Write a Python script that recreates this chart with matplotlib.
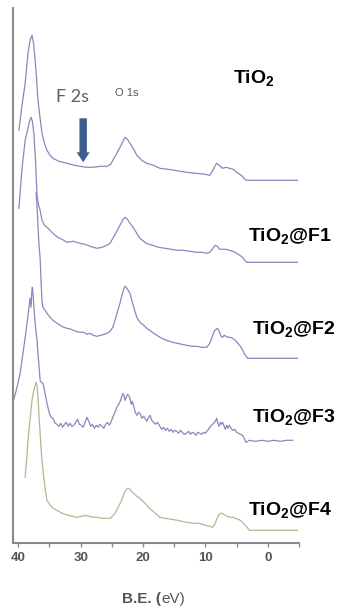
import numpy as np
import matplotlib.pyplot as plt

plt.rcParams['font.family'] = ['Liberation Sans', 'DejaVu Sans']
plt.rcParams['mathtext.fontset'] = 'custom'
plt.rcParams['mathtext.rm'] = 'Liberation Sans'
plt.rcParams['mathtext.bf'] = 'Liberation Sans:bold'

# spectra: (binding energy eV, intensity a.u. incl. vertical offset)
tio2 = [(39.9, 413), (39.4, 438), (38.9, 460), (38.45, 490), (38.1, 503), (37.8, 508),
        (37.55, 500), (37.3, 483), (37.05, 463), (36.85, 443), (36.5, 425), (36.2, 410),
        (35.8, 400), (35.4, 393), (34.9, 388), (34.45, 385), (33.5, 382), (32.2, 380),
        (31.0, 378), (30.1, 377), (29.0, 376), (28.0, 376), (26.8, 377), (25.8, 377),
        (25.2, 379), (24.85, 383), (24.3, 389), (23.7, 396), (23.2, 402), (22.9, 406),
        (22.5, 404), (22.1, 400), (21.5, 394), (21.0, 388), (20.2, 383), (19.4, 380),
        (18.3, 378), (17.3, 375), (16.0, 374), (15.0, 373), (14.0, 372), (13.0, 371),
        (11.5, 370), (10.0, 369), (9.3, 368), (8.9, 372), (8.5, 377), (8.2, 380),
        (7.8, 378), (7.25, 375), (6.7, 376), (6.15, 375), (5.5, 374), (5.0, 371),
        (4.5, 369), (4.05, 367), (3.7, 364), (3.4, 363), (2.9, 363), (1.0, 363),
        (-2.0, 363), (-4.75, 363)]

tio2_f1 = [(39.9, 335), (39.4, 375), (38.9, 403), (38.45, 415), (38.2, 422), (37.95, 426),
           (37.75, 422), (37.5, 410), (37.25, 385), (37.0, 348), (36.75, 338), (36.5, 333),
           (36.2, 323), (35.8, 318), (35.4, 316), (34.9, 313), (34.3, 309), (33.65, 306),
           (33.0, 304), (32.2, 301), (31.2, 302), (30.1, 300), (29.3, 299), (28.5, 297),
           (27.4, 295), (26.6, 296), (25.8, 298), (25.3, 300), (24.85, 305), (24.3, 311),
           (23.7, 318), (23.2, 324), (22.9, 326), (22.5, 324), (22.1, 320), (21.5, 315),
           (21.0, 310), (20.5, 305), (19.5, 300), (18.5, 298), (17.5, 296), (16.5, 295),
           (15.5, 294), (14.5, 293), (13.5, 293), (12.5, 292), (11.5, 291), (10.5, 291),
           (9.7, 290), (9.3, 291), (8.8, 295), (8.4, 298), (8.1, 297), (7.7, 294),
           (7.25, 294), (6.7, 294), (6.15, 293), (5.6, 292), (5.0, 290), (4.5, 288),
           (4.05, 286), (3.7, 283), (3.4, 281), (2.9, 281), (0.0, 281), (-4.75, 281)]

tio2_f2 = [(37.15, 351), (37.0, 338), (36.85, 318), (36.7, 300), (36.5, 285), (36.35, 262),
           (36.2, 242), (36.05, 236), (35.7, 233), (35.4, 230), (34.9, 226), (34.45, 223),
           (34.0, 221), (33.3, 218), (32.7, 216), (32.2, 215), (31.5, 214), (30.8, 212),
           (30.1, 211), (29.5, 211), (29.0, 209), (28.5, 210), (28.0, 208), (27.4, 207),
           (26.8, 208), (26.2, 209), (25.8, 210), (25.3, 212), (24.85, 216), (24.4, 225),
           (24.0, 234), (23.7, 240), (23.4, 248), (23.1, 254), (22.9, 257), (22.7, 256),
           (22.5, 254), (22.3, 252), (22.1, 250), (21.8, 243), (21.5, 236), (21.0, 226),
           (20.5, 221), (19.9, 218), (19.4, 215), (18.5, 211), (17.8, 208), (17.0, 205),
           (16.2, 203), (15.3, 201), (14.5, 200), (13.8, 199), (13.0, 198), (12.2, 197),
           (11.4, 197), (10.6, 196), (9.8, 196), (9.4, 199), (9.0, 205), (8.6, 212),
           (8.3, 214), (8.05, 215), (7.8, 212), (7.5, 207), (7.25, 206), (7.0, 208),
           (6.7, 207), (6.4, 206), (6.0, 206), (5.65, 205), (5.2, 203), (4.8, 200),
           (4.5, 198), (4.1, 194), (3.7, 189), (3.25, 185), (2.9, 185), (0.0, 185),
           (-4.75, 185)]

tio2_f3 = [(40.85, 141), (40.45, 150), (40.05, 160), (39.65, 172), (39.25, 190), (38.85, 208),
           (38.5, 225), (38.25, 238), (38.1, 245), (37.95, 236), (37.85, 250), (37.75, 256),
           (37.6, 246), (37.4, 228), (37.2, 214), (37.0, 203), (36.75, 183), (36.5, 163),
           (36.3, 161), (36.05, 160), (35.7, 150), (35.4, 140), (35.1, 132), (34.9, 128),
           (34.7, 126), (34.45, 125), (34.1, 120), (33.8, 119), (33.5, 117), (33.2, 120),
           (32.9, 116), (32.6, 119), (32.3, 121), (32.0, 117), (31.7, 120), (31.4, 117),
           (31.1, 118), (30.8, 121), (30.5, 124), (30.2, 119), (29.9, 118), (29.6, 116),
           (29.3, 121), (29.0, 126), (28.7, 122), (28.4, 117), (28.1, 119), (27.8, 115),
           (27.5, 118), (27.2, 116), (26.9, 119), (26.6, 117), (26.3, 115), (26.0, 119),
           (25.7, 121), (25.4, 118), (25.1, 122), (24.85, 126), (24.5, 131), (24.2, 136),
           (23.9, 139), (23.6, 143), (23.25, 150), (23.05, 148), (22.9, 143), (22.7, 146),
           (22.5, 149), (22.3, 148), (22.1, 145), (21.9, 139), (21.7, 142), (21.5, 137),
           (21.25, 131), (21.0, 128), (20.7, 131), (20.5, 130), (20.2, 125), (19.9, 127),
           (19.6, 124), (19.4, 122), (19.1, 126), (18.9, 128), (18.6, 123), (18.3, 121),
           (18.0, 119), (17.7, 121), (17.3, 117), (17.0, 114), (16.7, 116), (16.4, 113),
           (16.1, 115), (15.8, 112), (15.5, 114), (15.2, 111), (14.9, 113), (14.6, 112),
           (14.3, 110), (14.0, 113), (13.7, 111), (13.4, 109), (13.0, 110), (12.7, 112),
           (12.4, 109), (12.1, 111), (11.8, 110), (11.5, 108), (11.2, 111), (10.9, 110),
           (10.6, 109), (10.3, 111), (10.0, 110), (9.8, 112), (9.5, 114), (9.2, 117),
           (9.0, 118), (8.7, 120), (8.4, 122), (8.2, 125), (8.0, 120), (7.8, 117),
           (7.6, 121), (7.4, 119), (7.25, 121), (7.0, 117), (6.8, 114), (6.6, 118),
           (6.4, 115), (6.15, 118), (5.9, 115), (5.6, 113), (5.3, 114), (5.0, 111),
           (4.7, 110), (4.4, 109), (4.05, 108), (3.8, 105), (3.5, 101), (3.2, 102),
           (3.0, 103), (2.0, 102), (1.0, 103), (0.0, 102), (-1.0, 103), (-2.0, 102),
           (-3.0, 103), (-4.0, 103)]

tio2_f4 = [(38.9, 66), (38.65, 85), (38.45, 103), (38.1, 125), (37.8, 143), (37.55, 152),
           (37.3, 158), (37.15, 161), (37.0, 158), (36.85, 148), (36.7, 130), (36.5, 110),
           (36.3, 90), (36.05, 73), (35.7, 55), (35.4, 43), (34.9, 38), (34.4, 35),
           (33.8, 33), (33.0, 30), (32.0, 28), (31.2, 27), (30.6, 26), (29.8, 27),
           (29.2, 28), (28.7, 27), (28.0, 26), (27.4, 26), (26.5, 25), (25.8, 25),
           (25.3, 25), (24.9, 27), (24.5, 30), (24.0, 36), (23.5, 42), (23.1, 49),
           (22.8, 53), (22.5, 55), (22.3, 55), (22.0, 53), (21.7, 51), (21.5, 50),
           (21.0, 47), (20.5, 45), (20.0, 42), (19.4, 38), (18.8, 34), (18.2, 31),
           (17.3, 26), (16.5, 25), (15.5, 24), (14.5, 23), (13.8, 22), (13.0, 21),
           (12.0, 20), (11.0, 20), (10.0, 18), (9.3, 17), (8.85, 16), (8.5, 19),
           (8.2, 24), (7.9, 28), (7.6, 30), (7.4, 30), (7.1, 29), (6.8, 28),
           (6.5, 27), (6.1, 26), (5.65, 26), (5.2, 25), (4.8, 24), (4.4, 23),
           (4.05, 21), (3.6, 18), (3.2, 15), (2.9, 13), (1.0, 13), (-2.0, 13),
           (-4.75, 13)]

spectra = [tio2, tio2_f1, tio2_f2, tio2_f3, tio2_f4]
sample_names = ['TiO$_\\mathbf{2}$', 'TiO$_\\mathbf{2}$@F1', 'TiO$_\\mathbf{2}$@F2',
                'TiO$_\\mathbf{2}$@F3', 'TiO$_\\mathbf{2}$@F4']
label_pos = [(5.65, 460), (3.25, 302), (2.6, 209), (2.6, 121), (3.25, 28)]
line_colors = ['#8888be', '#8888be', '#8888be', '#8888be', '#b4b78e']

xticks_major = [40, 30, 20, 10, 0]
xticks_minor = [35, 25, 15, 5, -5]

fig = plt.figure(figsize=(3.38, 6.13), dpi=100)
ax = fig.add_axes([13.3/338, (613-543.3)/613, (299-13.3)/338, (543.3-8)/613])

for spec, col in zip(spectra, line_colors):
    spec = np.array(spec)
    ax.plot(spec[:, 0], spec[:, 1], color=col, lw=0.9)

for name, (x, y) in zip(sample_names, label_pos):
    ax.text(x, y, name, fontsize=14, fontweight='bold', color='black',
            ha='left', va='baseline', clip_on=False)

# F 2s marker
ax.arrow(29.6, 425, 0, -44, width=1.2, head_width=2.1, head_length=10,
         length_includes_head=True, color='#3d5f8e', ec='none')
ax.text(31.25, 446, 'F 2s', fontsize=13, color='#5f5f5f', family=['Lato', 'DejaVu Sans'],
        ha='center', va='center')
ax.text(22.6, 450, 'O 1s', fontsize=8, color='#5a5a5a', ha='center', va='center')

ax.set_xlim(40.8, -5)
ax.set_ylim(0, 535.3)
ax.set_xticks(xticks_major)
ax.set_xticks(xticks_minor, minor=True)
ax.set_yticks([])
for s in ['top', 'right']:
    ax.spines[s].set_visible(False)
for s in ['left', 'bottom']:
    ax.spines[s].set_color('#8a8a8a')
    ax.spines[s].set_linewidth(1.5)
ax.tick_params(axis='x', which='both', direction='out', length=3, width=1,
               color='#8a8a8a', labelsize=9.5, labelcolor='#555555', pad=3)
for lab in ax.get_xticklabels():
    lab.set_fontweight('bold')

t1 = fig.text(122/338, (613-599)/613, 'B.E. (', fontsize=11, fontweight='bold',
              color='#555555', ha='left', va='center')
ax.annotate('eV)', xy=(1, 0), xycoords=t1, fontsize=11, color='#555555',
            ha='left', va='bottom', annotation_clip=False)

fig.savefig('out.png', dpi=100)
